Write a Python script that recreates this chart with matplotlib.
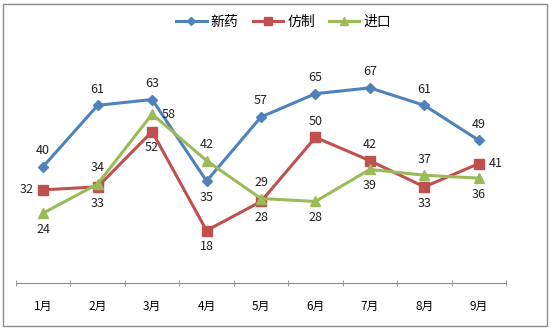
import matplotlib
matplotlib.use('Agg')
import matplotlib.pyplot as plt
from matplotlib.patches import Rectangle

plt.rcParams['font.family'] = ['Noto Sans CJK SC', 'DejaVu Sans']

# Данные
months = ['1月', '2月', '3月', '4月', '5月', '6月', '7月', '8月', '9月']
new_drug = [40, 61, 63, 35, 57, 65, 67, 61, 49]
generic = [32, 33, 52, 18, 28, 50, 42, 33, 41]
imported = [24, 34, 58, 42, 29, 28, 39, 37, 36]

# Где ставить подписи значений
pos_new = ['a', 'a', 'a', 'b', 'a', 'a', 'a', 'a', 'a']
pos_gen = ['l', 'b', 'b', 'b', 'b', 'a', 'a', 'b', 'r']
pos_imp = ['b', 'a', 'r', 'a', 'a', 'b', 'b', 'a', 'b']

offsets = {'a': (0, 7, 'center', 'bottom'), 'b': (0, -7, 'center', 'top'),
           'l': (-7, 0, 'right', 'center'), 'r': (7, 0, 'left', 'center')}

fig = plt.figure(figsize=(5.51, 3.29), dpi=100)
ax = fig.add_axes([16 / 551, 1 - 283 / 329, 490 / 551, 233 / 329])

# Рамка вокруг диаграммы
fig.patches.append(Rectangle((3 / 551, 3 / 329), 544 / 551, 322 / 329,
                             transform=fig.transFigure, fill=False,
                             edgecolor='#8c8c8c', linewidth=1))

x = list(range(len(months)))
series = [
    ('新药', new_drug, '#4F81BD', 'D', 5, pos_new),
    ('仿制', generic, '#C0504D', 's', 6.5, pos_gen),
    ('进口', imported, '#9BBB59', '^', 7, pos_imp),
]

for name, vals, color, marker, ms, pos in series:
    ax.plot(x, vals, color=color, linewidth=2.2, marker=marker, markersize=ms,
            label=name, zorder=3)
    for xi, v, p in zip(x, vals, pos):
        dx, dy, ha, va = offsets[p]
        ax.annotate(str(v), (xi, v), xytext=(dx, dy), textcoords='offset points',
                    ha=ha, va=va, fontsize=9, color='#222222')

ax.set_xlim(-0.5, len(months) - 0.5)
ax.set_ylim(0, 80)

for side in ['top', 'right', 'left']:
    ax.spines[side].set_visible(False)
ax.spines['bottom'].set_color('#8c8c8c')
ax.set_yticks([])

ax.set_xticks(x)
ax.set_xticklabels(months, fontsize=8.5)
ax.tick_params(axis='x', which='major', length=0, pad=12)
ax.set_xticks([i - 0.5 for i in range(len(months) + 1)], minor=True)
ax.tick_params(axis='x', which='minor', length=4, direction='inout', color='#8c8c8c')

fig.legend(loc='center', bbox_to_anchor=(0.515, 1 - 22 / 329), ncol=3, frameon=False,
           fontsize=10, handlelength=2.2, columnspacing=1.0, handletextpad=0.3,
           markerscale=0.8)

fig.savefig('out.png', dpi=100)
